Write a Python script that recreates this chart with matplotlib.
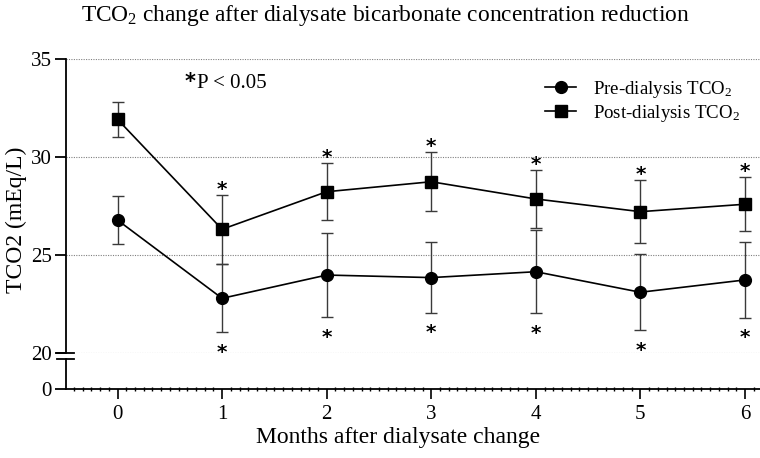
import matplotlib
matplotlib.use("Agg")
import matplotlib.pyplot as plt
from matplotlib.lines import Line2D
from matplotlib.ticker import MultipleLocator

plt.rcParams['font.family'] = ['Liberation Serif', 'DejaVu Sans']
plt.rcParams['mathtext.fontset'] = 'custom'
plt.rcParams['mathtext.rm'] = 'Liberation Serif'
plt.rcParams['mathtext.it'] = 'Liberation Serif:italic'

# data (mean +/- SD)
months = [0, 1, 2, 3, 4, 5, 6]
pre_mean = [26.78, 22.78, 23.97, 23.84, 24.14, 23.09, 23.72]
pre_sd = [1.24, 1.74, 2.17, 1.80, 2.13, 1.95, 1.94]
post_mean = [31.93, 26.31, 28.23, 28.74, 27.86, 27.21, 27.59]
post_sd = [0.91, 1.76, 1.45, 1.50, 1.48, 1.60, 1.37]
signif = [False, True, True, True, True, True, True]

W, H = 760, 458
fig = plt.figure(figsize=(W / 100, H / 100), dpi=100)

x_left, x_right = 66, 760
ax = fig.add_axes([x_left / W, 1 - 352.7 / H, (x_right - x_left) / W, (352.7 - 59.3) / H])
ax0 = fig.add_axes([x_left / W, 1 - 389.3 / H, (x_right - x_left) / W, (389.3 - 359) / H])

xlim = (-0.4925, 6.144)
for a in (ax, ax0):
    a.set_xlim(*xlim)
    a.spines['top'].set_visible(False)
    a.spines['right'].set_visible(False)
    a.spines['left'].set_linewidth(1.3)
    a.spines['bottom'].set_linewidth(1.3)
    a.set_facecolor('none')

ax.spines['bottom'].set_visible(False)
ax.set_ylim(20, 35)
ax.set_yticks([20, 25, 30, 35])
ax.tick_params(axis='y', direction='out', length=8, width=1.3, labelsize=15, pad=2)
ax.tick_params(axis='x', bottom=False, labelbottom=False)
ax.yaxis.grid(True, linestyle=(0, (1, 1.2)), color='#808080', linewidth=0.8)
ax.set_axisbelow(True)

ax0.set_ylim(0, 1)
ax0.set_yticks([0])
ax0.tick_params(axis='y', direction='out', length=8, width=1.3, labelsize=15, pad=2)
ax0.set_xticks(months)
ax0.xaxis.set_minor_locator(MultipleLocator(1 / 12))
ax0.tick_params(axis='x', which='major', direction='out', length=7, width=1.2, labelsize=15, pad=4)
ax0.tick_params(axis='x', which='minor', direction='inout', length=3, width=1.0)

# series
for mean, sd in ((pre_mean, pre_sd), (post_mean, post_sd)):
    ax.errorbar(months, mean, yerr=sd, fmt='none', ecolor='#3a3a3a', elinewidth=1.0,
                capsize=4, capthick=1.0, zorder=2)
ax.plot(months, pre_mean, color='black', lw=1.2, marker='o', ms=8.5, zorder=3,
        label='Pre-dialysis TCO$_2$', clip_on=False)
ax.plot(months, post_mean, color='black', lw=1.2, marker='s', ms=8.5, zorder=3,
        label='Post-dialysis TCO$_2$', clip_on=False)

# significance stars
fs_star = 14.5
for m, pm, ps, qm, qs, s in zip(months, pre_mean, pre_sd, post_mean, post_sd, signif):
    if not s:
        continue
    for yy in (qm + qs + 0.62, pm - ps - 0.68):
        ax.annotate('*', (m, yy), xytext=(0, -0.59 * fs_star), textcoords='offset points',
                    ha='center', va='baseline', fontsize=fs_star, family='DejaVu Sans',
                    fontweight='bold', annotation_clip=False)

# axis break marks
for yp in (352.7, 359.0):
    fig.add_artist(Line2D([57 / W, 74 / W], [1 - yp / H] * 2, color='black', lw=1.3,
                          transform=fig.transFigure))

# legend
ax.legend(loc='upper left', bbox_to_anchor=(545 / W, 1 - 79 / H), bbox_transform=fig.transFigure,
          frameon=False, fontsize=13.6, handlelength=1.65, handletextpad=0.9,
          borderpad=0, borderaxespad=0, labelspacing=0.15)

# texts
fig.text(386 / W, 1 - 21 / H, 'TCO$_2$ change after dialysate bicarbonate concentration reduction',
         ha='center', va='baseline', fontsize=16.8)
fig.text(16.5 / W, 1 - 220 / H, 'TCO2 (mEq/L)', rotation=90, ha='center', va='center', fontsize=17)
fig.text(398 / W, 1 - 443 / H, 'Months after dialysate change', ha='center', va='baseline', fontsize=17)
star_fs = 15
fig.text(190 / W, 1 - (76 + 0.59 * star_fs * 100 / 72) / H, '*', ha='center', va='baseline',
         fontsize=star_fs, family='DejaVu Sans', fontweight='bold')
fig.text(197 / W, 1 - 88 / H, 'P < 0.05', ha='left', va='baseline', fontsize=15)

fig.savefig('out.png', dpi=100)
